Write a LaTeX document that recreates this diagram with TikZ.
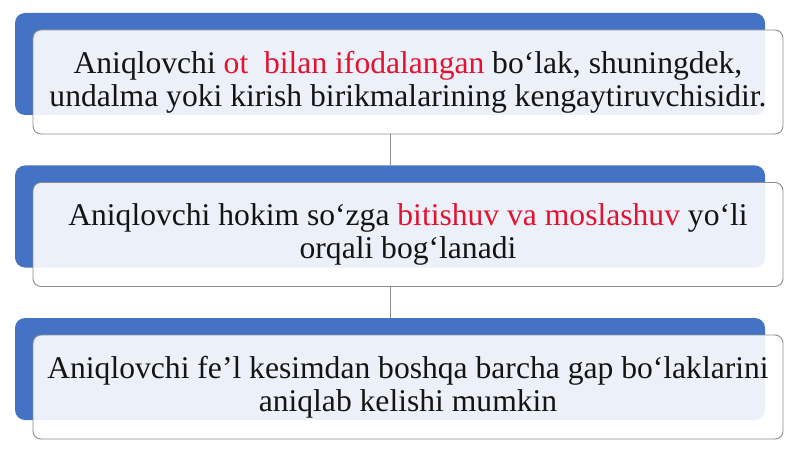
\documentclass[tikz,border=0pt]{standalone}
\usepackage{fontspec}
\setmainfont{Liberation Serif}
\definecolor{barblue}{RGB}{68,114,196}
\definecolor{boxline}{RGB}{140,140,140}
\definecolor{redtxt}{RGB}{226,18,48}
\definecolor{txt}{RGB}{20,20,20}
\begin{document}
\begin{tikzpicture}[x=1pt,y=-1pt,
  bar/.style={rectangle, rounded corners=10pt, fill=barblue, draw=none,
    minimum width=750pt, minimum height=102pt, inner sep=0pt, outer sep=0pt},
  whitebox/.style={rectangle, rounded corners=8pt, fill=white, fill opacity=0.9,
    text opacity=1, draw=boxline, line width=0.9pt,
    minimum width=750pt, minimum height=104pt, inner sep=0pt, outer sep=0pt,
    align=center, text=txt, font=\fontsize{31.6}{33}\selectfont},
  link/.style={draw=boxline, line width=0.9pt}]
\useasboundingbox (0,0) rectangle (800,449);
\fill[white] (0,0) rectangle (800,449);
\node[bar] (b1) at (390,64) {};
\node[bar] (b2) at (390,216.5) {};
\node[bar] (b3) at (390,369) {};
\node[whitebox] (w1) at (408,82) {Aniqlovchi \textcolor{redtxt}{ot\ \ bilan ifodalangan} bo‘lak, shuningdek,\\undalma yoki kirish birikmalarining kengaytiruvchisidir.};
\node[whitebox] (w2) at (408,234.5) {Aniqlovchi hokim so‘zga \textcolor{redtxt}{bitishuv va moslashuv} yo‘li\\orqali bog‘lanadi};
\node[whitebox] (w3) at (408,387) {Aniqlovchi fe’l kesimdan boshqa barcha gap bo‘laklarini\\aniqlab kelishi mumkin};
\draw[link] (b2.north |- w1.south) -- (b2.north);
\draw[link] (b3.north |- w2.south) -- (b3.north);
\end{tikzpicture}
\end{document}
